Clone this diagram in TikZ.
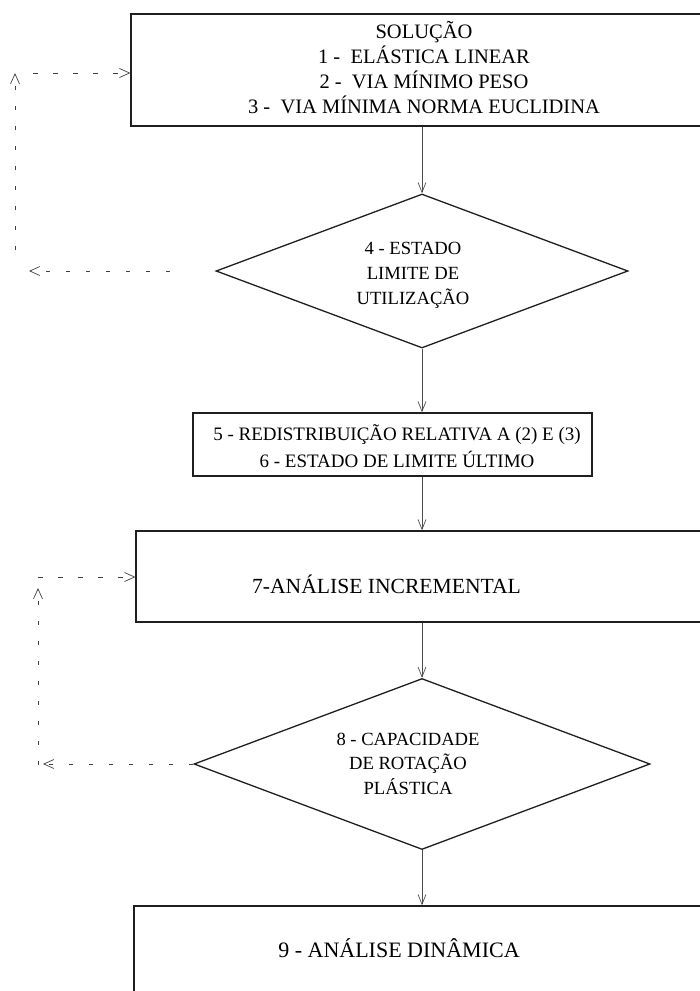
\documentclass[tikz,border=0pt]{standalone}
\usepackage{fontspec}
\setmainfont{Liberation Serif}
\usetikzlibrary{shapes.geometric,arrows.meta}
\begin{document}
\begin{tikzpicture}[x=1pt,y=-1pt,
  boxst/.style={draw=black!88, line width=1.3pt, rectangle, inner sep=0pt},
  diast/.style={draw=black!88, line width=1.3pt, diamond, inner sep=0pt},
  flow/.style={draw=black!70, line width=0.7pt, -{Straight Barb[length=10pt,width=8pt,line width=0.7pt]}},
  loopst/.style={draw=black!75, line width=0.7pt, dash pattern=on 4.5pt off 15.5pt, -{Straight Barb[length=10pt,width=9pt,line width=0.7pt]}},
  txt/.style={align=center, inner sep=0pt, text=black}
]
\useasboundingbox (0,0) rectangle (700,991);
\clip (0,0) rectangle (700,991);

% boxes and decisions
\node[boxst, minimum width=586pt, minimum height=112pt] (b1) at (424,70) {};
\node[txt, font=\fontsize{20.5}{25}\selectfont] (t1) at (424,68)
  {SOLUÇÃO\\1 - \ ELÁSTICA LINEAR\\2 - \ VIA MÍNIMO PESO\\3 - \ VIA MÍNIMA NORMA EUCLIDINA};

\node[diast, minimum width=412pt, minimum height=154pt] (d4) at (422,271) {};
\node[txt, font=\fontsize{18.6}{25}\selectfont] (t4) at (413,275)
  {4 - ESTADO\\LIMITE DE\\UTILIZAÇÃO};

\node[boxst, minimum width=399pt, minimum height=63pt] (b5) at (392.5,444.5) {};
\node[txt, font=\fontsize{19}{27}\selectfont] (t5) at (397,446)
  {5 - REDISTRIBUIÇÃO RELATIVA A (2) E (3)\\6 - ESTADO DE LIMITE ÚLTIMO};

\node[boxst, minimum width=624pt, minimum height=91pt] (b7) at (448,576.5) {};
\node[txt, font=\fontsize{21.6}{26}\selectfont, anchor=base] (t7) at (386.5,593)
  {7-ANÁLISE INCREMENTAL};

\node[diast, minimum width=456pt, minimum height=171pt] (d8) at (422,764) {};
\node[txt, font=\fontsize{18.6}{24.5}\selectfont] (t8) at (408,763.5)
  {8 - CAPACIDADE\\DE ROTAÇÃO\\PLÁSTICA};

\node[boxst, minimum width=626pt, minimum height=144pt] (b9) at (447,978) {};
\node[txt, font=\fontsize{22}{26}\selectfont, anchor=base] (t9) at (399,957)
  {9 - ANÁLISE DINÂMICA};

% main flow
\draw[flow] (d4.north |- b1.south) -- (d4.north);
\draw[flow] (d4.south) -- (d4.south |- b5.north);
\draw[flow] (d4.south |- b5.south) -- (d4.south |- b7.north);
\draw[flow] (d8.north |- b7.south) -- (d8.north);
\draw[flow] (d8.south) -- (d8.south |- b9.north);

% feedback loop 1
\coordinate (l1s) at (170,271);
\coordinate (l1e) at (29,271);
\coordinate (l1b) at (15,250);
\coordinate (l1t) at (15,73);
\coordinate (l1r) at (33,73);
\draw[loopst] (l1s) -- (l1e);
\draw[loopst] (l1b) -- (l1t);
\draw[loopst] (l1r) -- (b1.west |- l1r);

% feedback loop 2
\coordinate (l2e) at (43,764);
\coordinate (l2b) at (38,765);
\coordinate (l2t) at (38,588);
\coordinate (l2r) at (38,577);
\draw[loopst] (d8.west) -- (l2e);
\draw[loopst] (l2b) -- (l2t);
\draw[loopst] (l2r) -- (b7.west |- l2r);
\end{tikzpicture}
\end{document}
